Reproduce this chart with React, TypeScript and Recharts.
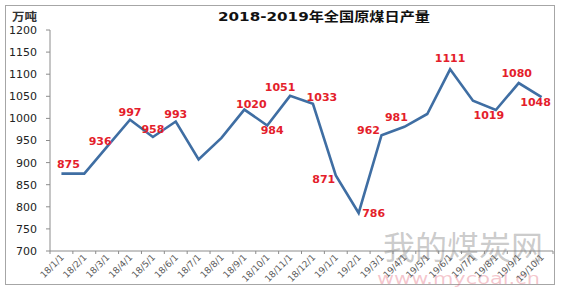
import { LineChart, Line, XAxis, YAxis, LabelList } from "recharts";

// months on the category axis
const months = [
  "18/1/1", "18/2/1", "18/3/1", "18/4/1", "18/5/1", "18/6/1", "18/7/1", "18/8/1",
  "18/9/1", "18/10/1", "18/11/1", "18/12/1", "19/1/1", "19/2/1", "19/3/1", "19/4/1",
  "19/5/1", "19/6/1", "19/7/1", "19/8/1", "19/9/1", "19/10/1",
];

// daily raw coal output, 万吨
const output = [
  875, 875, 936, 997, 958, 993, 907, 956, 1020, 984, 1051, 1033, 871, 786, 962, 981,
  1010, 1111, 1040, 1019, 1080, 1048,
];

// which points carry a value label
const labeled = [
  true, false, true, true, true, true, false, false, true, true, true, true, true, true,
  true, true, false, true, false, true, true, true,
];

const yTicks = [700, 750, 800, 850, 900, 950, 1000, 1050, 1100, 1150, 1200];

// label offsets from the point (dx, dy of the label centre)
const labelOffsets: [number, number][] = [
  [7, -10], [0, 0], [-7, -6], [0, -8], [0, -8], [0, -7], [0, 0], [0, 0],
  [7, -6], [5, 5], [-10, -9], [9, -7], [-12, 4], [15, 0], [-13, -5], [-8, -10],
  [0, 0], [0, -11], [0, 0], [-7, 5], [-2, -10], [-6, 5],
];

const data = months.map((m, i) => ({ month: m, value: output[i] }));

const W = 561;
const H = 292;
const PLOT_LEFT = 50;
const PLOT_RIGHT = 553;
const STEP = (PLOT_RIGHT - PLOT_LEFT) / months.length;
const AXIS_Y = 251;

function XTick(props: any) {
  const { x, payload, index } = props;
  const left = x - STEP / 2;
  return (
    <g>
      <line x1={left} y1={AXIS_Y} x2={left} y2={AXIS_Y + 3} stroke="#8c8c8c" />
      {index === months.length - 1 && (
        <line x1={left + STEP} y1={AXIS_Y} x2={left + STEP} y2={AXIS_Y + 3} stroke="#8c8c8c" />
      )}
      <text
        transform={`translate(${x + 3},${AXIS_Y + 7}) rotate(-45)`}
        textAnchor="end"
        fontSize={9}
        fontFamily="DejaVu Sans"
        fill="#5a5a5a"
      >
        {payload.value}
      </text>
    </g>
  );
}

function renderLabel(props: any) {
  const { x, y, index, value } = props;
  if (!labeled[index]) return null;
  const [dx, dy] = labelOffsets[index];
  return (
    <text
      x={x + dx}
      y={y + dy + 4}
      textAnchor="middle"
      fontSize={11}
      fontWeight="bold"
      fontFamily="DejaVu Sans"
      fill="#e41e2b"
    >
      {value}
    </text>
  );
}

export default function App() {
  return (
    <div style={{ position: "absolute", left: 0, top: 0, width: W, height: H, background: "#fff" }}>
      <div
        style={{
          position: "absolute",
          left: 5,
          top: 5,
          width: 550,
          height: 280,
          border: "1px solid #a6a6a6",
          boxSizing: "border-box",
        }}
      />
      <svg width={W} height={H} style={{ position: "absolute", left: 0, top: 0 }}>
        <text x={383} y={259} fontSize={32} textLength={160} lengthAdjust="spacingAndGlyphs"
          fontFamily="Noto Sans CJK SC" fill="rgba(140,140,140,0.45)">我的煤炭网</text>
        <text x={377} y={284} fontSize={16} textLength={163} lengthAdjust="spacingAndGlyphs"
          fontFamily="DejaVu Sans" fill="rgba(225,90,110,0.35)">www.mycoal.cn</text>
      </svg>
      <div style={{ position: "absolute", left: 0, top: 0 }}>
        <LineChart width={W} height={H} data={data} margin={{ top: 30, right: W - PLOT_RIGHT, bottom: 0, left: 0 }}>
          <XAxis
            dataKey="month"
            interval={0}
            height={H - AXIS_Y}
            stroke="#8c8c8c"
            tickLine={false}
            padding={{ left: STEP / 2, right: STEP / 2 }}
            tick={<XTick />}
          />
          <YAxis
            domain={[700, 1200]}
            ticks={yTicks}
            width={PLOT_LEFT}
            stroke="#8c8c8c"
            tickSize={4}
            tickMargin={9}
            tick={{ fontSize: 11, fill: "#222", fontFamily: "DejaVu Sans" }}
          />
          <Line
            dataKey="value"
            stroke="#3f6ea3"
            strokeWidth={2.6}
            dot={false}
            isAnimationActive={false}
          >
            <LabelList dataKey="value" content={renderLabel} />
          </Line>
        </LineChart>
      </div>
      <svg width={W} height={H} style={{ position: "absolute", left: 0, top: 0, pointerEvents: "none" }}>
        <text x={12} y={21} fontSize={11} fontWeight="bold" textLength={25} lengthAdjust="spacingAndGlyphs"
          fontFamily="Noto Sans CJK SC" fill="#333">万吨</text>
        <text x={218} y={21} fontSize={13} fontWeight="bold" textLength={212} lengthAdjust="spacingAndGlyphs"
          fontFamily="DejaVu Sans, Noto Sans CJK SC" fill="#111">2018-2019年全国原煤日产量</text>
      </svg>
    </div>
  );
}
